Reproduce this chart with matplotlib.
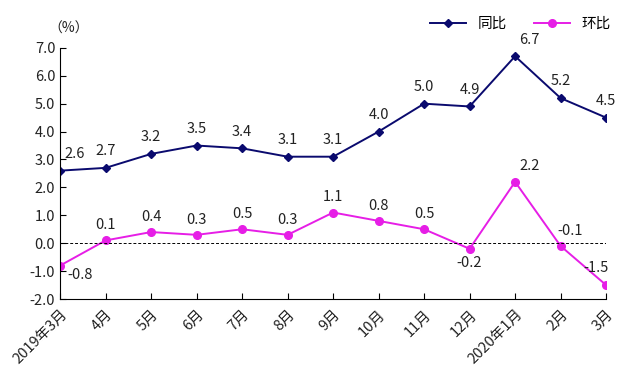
import numpy as np
import matplotlib.pyplot as plt

plt.rcParams['font.family'] = ['Noto Sans CJK SC', 'DejaVu Sans']

months = ['2019年3月', '4月', '5月', '6月', '7月', '8月', '9月', '10月',
          '11月', '12月', '2020年1月', '2月', '3月']
yoy = [2.6, 2.7, 3.2, 3.5, 3.4, 3.1, 3.1, 4.0, 5.0, 4.9, 6.7, 5.2, 4.5]
mom = [-0.8, 0.1, 0.4, 0.3, 0.5, 0.3, 1.1, 0.8, 0.5, -0.2, 2.2, -0.1, -1.5]

navy = '#0a0a6e'
pink = '#e61ee6'

fig = plt.figure(figsize=(6.4, 3.71), dpi=100)
ax = fig.add_axes([0.094, 0.194, 0.853, 0.677])

x = np.arange(len(months))
ax.plot(x, yoy, color=navy, marker='D', markersize=4.5, lw=1.4, label='同比')
ax.plot(x, mom, color=pink, marker='o', markersize=5.5, lw=1.4, label='环比')
ax.axhline(0, color='black', lw=0.7, ls=(0, (3, 2)))

# data labels
for i, v in enumerate(yoy):
    dx = 3 if i in (0, 10) else 0
    ax.annotate(f'{v:.1f}', (i, v), xytext=(dx, 7), textcoords='offset points',
                ha='left' if dx else 'center', va='bottom', fontsize=10.5, color='#222222')
for i, v in enumerate(mom):
    if i == 0:
        off, ha, va = (5, -2), 'left', 'top'
    elif i == 9:
        off, ha, va = (0, -5), 'center', 'top'
    elif i == 10:
        off, ha, va = (3, 6), 'left', 'bottom'
    elif i == 11:
        off, ha, va = (-2, 6), 'left', 'bottom'
    elif i == 12:
        off, ha, va = (-7, 7), 'center', 'bottom'
    else:
        off, ha, va = (0, 6), 'center', 'bottom'
    ax.annotate(f'{v:.1f}', (i, v), xytext=off, textcoords='offset points',
                ha=ha, va=va, fontsize=10.5, color='#222222')

ax.set_xlim(0, 12)
ax.set_ylim(-2, 7)
ax.set_yticks(np.arange(-2, 7.1, 1))
ax.set_yticklabels([f'{t:.1f}' for t in np.arange(-2, 7.1, 1)], fontsize=10.5)
ax.set_xticks(x)
ax.set_xticklabels(months, rotation=45, ha='right', rotation_mode='anchor', fontsize=10.5)
ax.tick_params(direction='in', length=4, color='black', labelcolor='#222222')
ax.tick_params(axis='x', pad=6)

for s in ('top', 'right'):
    ax.spines[s].set_visible(False)
for s in ('left', 'bottom'):
    ax.spines[s].set_linewidth(0.8)

fig.text(0.075, 0.905, '（%）', fontsize=10, color='#222222', va='bottom')

fig.legend(loc='center right', bbox_to_anchor=(0.975, 0.935), ncol=2, frameon=False,
           fontsize=10.5, handlelength=2.5, columnspacing=1.8)

fig.savefig('out.png', dpi=100)
